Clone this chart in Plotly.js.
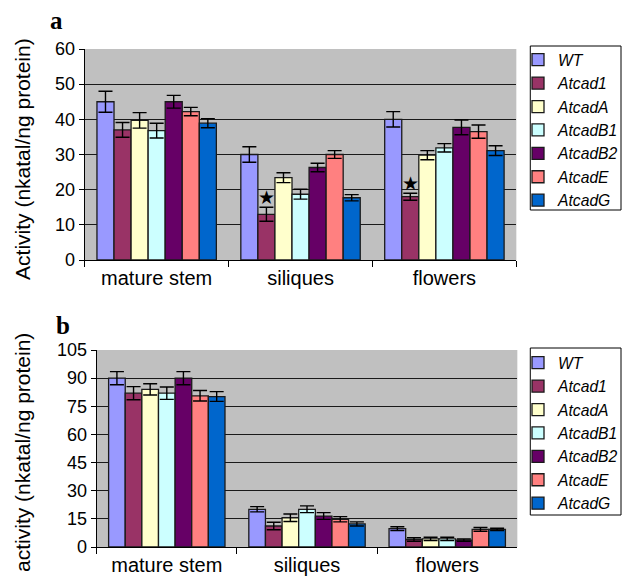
<!DOCTYPE html>
<html>
<head>
<meta charset="utf-8">
<script src="https://cdn.plot.ly/plotly-3.0.1.min.js"></script>
<style>html,body{margin:0;padding:0;background:#fff;}#chart{width:624px;height:581px;}</style>
</head>
<body>
<div id="chart"></div>
<script>
// ---- data ----
const categories = ['mature stem', 'siliques', 'flowers'];
const seriesNames = ['WT', 'Atcad1', 'AtcadA', 'AtcadB1', 'AtcadB2', 'AtcadE', 'AtcadG'];
const seriesColors = ['#9999FF', '#993366', '#FFFFCC', '#CCFFFF', '#660066', '#FF8080', '#0066CC'];

// panel a: rows follow seriesNames, columns follow categories
const valuesA = [
  [45.0, 30.0, 40.0],
  [37.0, 13.0, 18.0],
  [39.7, 23.4, 29.8],
  [36.8, 18.7, 31.9],
  [45.0, 26.3, 37.7],
  [42.2, 30.0, 36.5],
  [38.9, 17.7, 31.1]
];
const errorsA = [
  [3.0, 2.2, 2.2],
  [2.1, 2.0, 1.0],
  [2.2, 1.4, 1.3],
  [2.1, 1.4, 1.2],
  [1.8, 1.2, 2.1],
  [1.2, 1.1, 1.9],
  [1.3, 0.9, 1.4]
];
// panel b
const valuesB = [
  [90.0, 20.1, 9.8],
  [82.0, 11.2, 4.0],
  [84.0, 15.6, 4.3],
  [82.0, 20.1, 4.3],
  [90.0, 16.5, 3.7],
  [80.6, 14.8, 9.4],
  [80.2, 12.3, 9.4]
];
const errorsB = [
  [3.5, 1.4, 1.0],
  [3.5, 2.0, 0.9],
  [3.0, 2.0, 0.9],
  [3.3, 1.8, 0.9],
  [3.5, 1.8, 0.6],
  [2.8, 1.4, 1.0],
  [2.6, 1.1, 0.6]
];
// significance stars (panel a)
const starSeries = 'Atcad1';
const starCategories = ['siliques', 'flowers'];
const starY = [17.8, 21.8];

const yTicksA = [0, 10, 20, 30, 40, 50, 60];
const yTicksB = [0, 15, 30, 45, 60, 75, 90, 105];

// ---- build ----
const W = 624, H = 581;
const px = v => v / W;
const py = v => 1 - v / H;
const BARGAP = 0.17;

const traces = [];
seriesNames.forEach((name, i) => {
  traces.push({
    type: 'bar', name: name, x: categories, y: valuesA[i],
    xaxis: 'x', yaxis: 'y', legend: 'legend',
    marker: {color: seriesColors[i], line: {color: '#1a1a1a', width: 1.3}},
    error_y: {type: 'data', array: errorsA[i], visible: true, color: '#000', thickness: 1.4, width: 7}
  });
});
seriesNames.forEach((name, i) => {
  traces.push({
    type: 'bar', name: name, x: categories, y: valuesB[i],
    xaxis: 'x2', yaxis: 'y2', legend: 'legend2',
    marker: {color: seriesColors[i], line: {color: '#1a1a1a', width: 1.3}},
    error_y: {type: 'data', array: errorsB[i], visible: true, color: '#000', thickness: 1.4, width: 7}
  });
});

const nS = seriesNames.length;
const sIdx = seriesNames.indexOf(starSeries);
const groupW = 1 - BARGAP;
const starOffset = -groupW / 2 + (sIdx + 0.5) * groupW / nS;
const annotations = starCategories.map((c, k) => ({
  xref: 'x', yref: 'y', x: categories.indexOf(c) + starOffset, y: starY[k],
  xanchor: 'center', yanchor: 'middle',
  text: '\u2605', showarrow: false, font: {size: 19, color: '#000', family: 'DejaVu Sans'}
}));

const axisFont = {family: 'Liberation Sans, Arial, sans-serif', color: '#000'};
function paperText(x, y, text, font, angle) {
  return {xref: 'paper', yref: 'paper', x: px(x), y: py(y), xanchor: 'center', yanchor: 'middle',
          text: text, showarrow: false, textangle: angle || 0, font: font};
}
const serifBold = {family: 'Liberation Serif, Times New Roman, serif', size: 25, color: '#000'};
annotations.push(
  paperText(57, 20, '<b>a</b>', serifBold),
  paperText(63, 325, '<b>b</b>', serifBold),
  paperText(23, 159, 'Activity (nkatal/ng protein)', Object.assign({size: 21}, axisFont), -90),
  paperText(22, 452, 'activity (nkatal/ng protein)', Object.assign({size: 21}, axisFont), -90)
);

function xAxis(domain, anchor) {
  return {
    domain: domain, anchor: anchor, type: 'category', showgrid: false,
    showline: true, linecolor: '#000', linewidth: 1,
    ticks: 'outside', tickson: 'boundaries', ticklen: 6, tickcolor: '#000', tickwidth: 1,
    tickfont: Object.assign({size: 20}, axisFont), fixedrange: true
  };
}
function yAxis(domain, anchor, range, tickvals) {
  return {
    domain: domain, anchor: anchor, range: range, tickmode: 'array', tickvals: tickvals,
    showline: true, linecolor: '#000', linewidth: 1, zeroline: false,
    showgrid: true, gridcolor: '#1a1a1a', gridwidth: 1,
    ticks: 'outside', ticklen: 5, tickcolor: '#000', tickwidth: 1,
    tickfont: Object.assign({size: 18}, axisFont), fixedrange: true
  };
}

const legendCommon = {
  xref: 'paper', yref: 'paper', xanchor: 'left', yanchor: 'top',
  bgcolor: 'rgba(0,0,0,0)', borderwidth: 0, itemclick: false, itemdoubleclick: false,
  font: {family: 'Liberation Sans, Arial, sans-serif', size: 15.7, style: 'italic', color: '#000'},
  tracegroupgap: 0, itemwidth: 30
};

const layout = {
  width: W, height: H,
  margin: {l: 0, r: 0, t: 0, b: 0},
  paper_bgcolor: '#fff', plot_bgcolor: '#C0C0C0',
  barmode: 'group', bargap: BARGAP, bargroupgap: 0,
  showlegend: true,
  xaxis: xAxis([px(85), px(518)], 'y'),
  yaxis: yAxis([py(260), py(49)], 'x', [0, 60], yTicksA),
  xaxis2: xAxis([px(97), px(519)], 'y2'),
  yaxis2: yAxis([py(547), py(350)], 'x2', [0, 105], yTicksB),
  legend: Object.assign({x: px(520), y: py(43)}, legendCommon),
  legend2: Object.assign({x: px(520), y: py(346)}, legendCommon),
  shapes: [
    {type: 'rect', xref: 'paper', yref: 'paper', x0: px(532), x1: px(623), y0: py(210), y1: py(46),
     fillcolor: '#fff', line: {color: '#000', width: 1}, layer: 'below'},
    {type: 'rect', xref: 'paper', yref: 'paper', x0: px(532), x1: px(623), y0: py(515), y1: py(348),
     fillcolor: '#fff', line: {color: '#000', width: 1}, layer: 'below'}
  ],
  annotations: annotations
};

Plotly.newPlot('chart', traces, layout, {displayModeBar: false, staticPlot: true});
</script>
</body>
</html>
